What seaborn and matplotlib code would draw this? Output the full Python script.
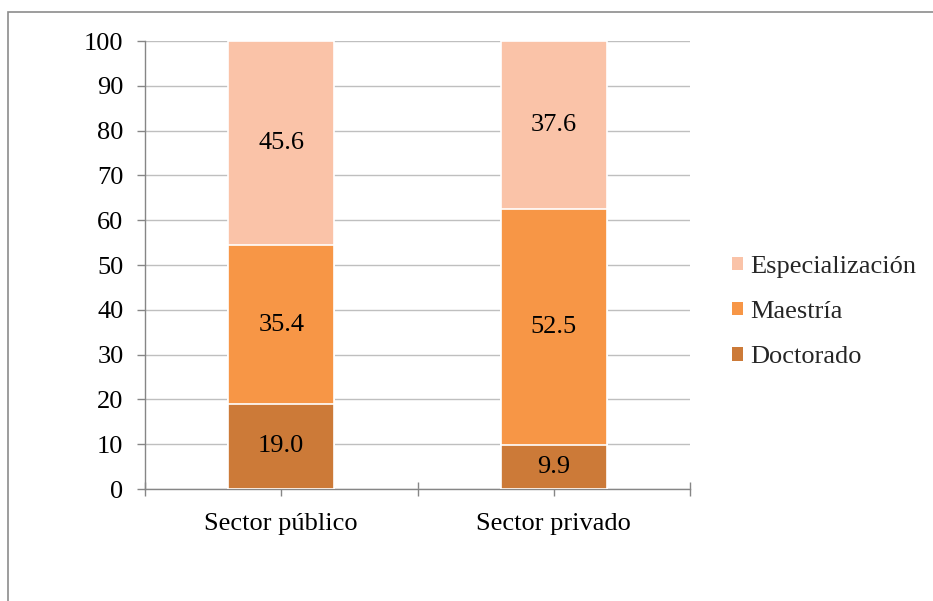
import numpy as np
import pandas as pd
import matplotlib
matplotlib.use("Agg")
import matplotlib.pyplot as plt
from matplotlib.patches import Patch, Rectangle
import seaborn as sns

# Data
sectors = ["Sector público", "Sector privado"]
doctorado = [19.0, 9.9]
maestria = [35.4, 52.5]
especializacion = [45.6, 37.6]
series_names = ["Especialización", "Maestría", "Doctorado"]
y_ticks = [0, 10, 20, 30, 40, 50, 60, 70, 80, 90, 100]

colors = {"Especialización": "#FAC3A8", "Maestría": "#F79646", "Doctorado": "#CC7A38"}

sns.set_theme(style="white")
plt.rcParams["font.family"] = ["Liberation Serif", "DejaVu Serif"]

FS = 19

fig = plt.figure(figsize=(9.33, 6.01), dpi=100)
ax = fig.add_axes([145 / 933, 1 - 489 / 601, (690 - 145) / 933, (489 - 41) / 601])

df = pd.DataFrame({
    "sector": sectors,
    "Doctorado": doctorado,
    "Maestría": maestria,
    "Especialización": especializacion,
})
df["lvl1"] = df["Doctorado"]
df["lvl2"] = df["Doctorado"] + df["Maestría"]
df["lvl3"] = df["lvl2"] + df["Especialización"]

# Stacked bars drawn as overlapping cumulative totals (top layer first)
bar_w = 0.39
for col, name in [("lvl3", "Especialización"), ("lvl2", "Maestría"), ("lvl1", "Doctorado")]:
    sns.barplot(data=df, x="sector", y=col, color=colors[name], width=bar_w,
                edgecolor="white", linewidth=1.2, saturation=1, ax=ax, zorder=3)

# Value labels centred in each segment
for i in range(len(sectors)):
    base = 0.0
    for val in [doctorado[i], maestria[i], especializacion[i]]:
        ax.text(i, base + val / 2, f"{val:.1f}", ha="center", va="center",
                fontsize=FS, color="black", zorder=5)
        base += val

ax.set_xlim(-0.5, 1.5)
ax.set_ylim(0, 100)
ax.set_yticks(y_ticks)
ax.set_xlabel("")
ax.set_ylabel("")

ax.set_xticks([-0.5, 0, 0.5, 1, 1.5])
ax.set_xticklabels(["", sectors[0], "", sectors[1], ""])

ax.yaxis.grid(True, color="#BFBFBF", linewidth=1, zorder=0)
ax.xaxis.grid(False)
ax.set_axisbelow(True)

for side in ["top", "right"]:
    ax.spines[side].set_visible(False)
for side in ["left", "bottom"]:
    ax.spines[side].set_color("#868686")
    ax.spines[side].set_linewidth(1)

ax.tick_params(axis="y", direction="out", length=5.5, width=1, color="#868686",
               labelsize=FS, labelcolor="black", pad=10, left=True)
ax.tick_params(axis="x", direction="inout", length=10, width=1, color="#868686",
               labelsize=FS, labelcolor="black", pad=12, bottom=True)

# Legend
handles = [Patch(facecolor=colors[n], edgecolor="none", label=n) for n in series_names]
fig.legend(handles=handles, loc="center left", bbox_to_anchor=(732 / 933, 1 - 312 / 601),
           frameon=False, fontsize=FS, handlelength=0.42, handleheight=0.42,
           handletextpad=0.27, labelspacing=0.88, borderpad=0, borderaxespad=0)

# Outer chart frame
fig.patches.append(Rectangle((8 / 933, -0.1), 1.2, (601 - 12) / 601 + 0.1,
                             transform=fig.transFigure, fill=False,
                             edgecolor="#8C8C8C", linewidth=1.2))

fig.savefig("out.png", dpi=100)
